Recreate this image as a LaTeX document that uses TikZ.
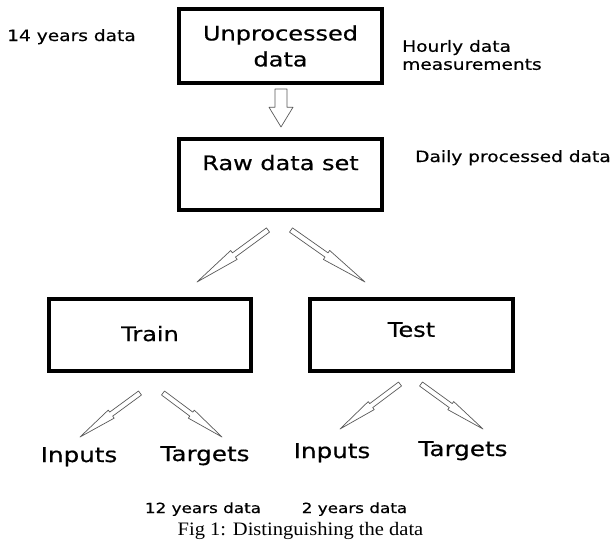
\documentclass[tikz,border=0pt]{standalone}
\usepackage{fontspec}
\setmainfont[FakeStretch=1.2, FakeBold=0.5]{DejaVu Sans}
\newfontfamily\captionfont[FakeStretch=1.08]{Liberation Serif}
\usetikzlibrary{positioning,calc}

% hollow arrow with a notch half way: {shaft half width}{head half width}{from}{to}
\newcommand{\splitarrow}[4]{%
  \coordinate (notch) at ($(#3)!.48!(#4)$);
  \draw[hollow] ($(#3)!#1!90:(#4)$) -- ($(notch)!#1!-90:(#3)$)
    -- ($(notch)!#2!-90:(#3)$) -- (#4)
    -- ($(notch)!#2!90:(#3)$) -- ($(notch)!#1!90:(#3)$)
    -- ($(#3)!#1!-90:(#4)$) -- cycle;}

\begin{document}
\begin{tikzpicture}[x=1pt, y=-1pt,
    stage/.style={rectangle, draw=black, line width=4pt, fill=white, inner sep=0pt,
                  minimum width=203pt, minimum height=72pt, align=center,
                  font=\fontsize{20}{26}\selectfont},
    note/.style={inner sep=0pt, align=left, font=\fontsize{15.5}{18}\selectfont},
    leaf/.style={inner sep=0pt, anchor=base, font=\fontsize{20.5}{24}\selectfont},
    share/.style={inner sep=0pt, anchor=base, font=\fontsize{14}{16}\selectfont},
    hollow/.style={draw=gray!70!black, line width=0.7pt, fill=white, line join=round}]
    \useasboundingbox (0,0) rectangle (615,541);

    % the four boxes
    \node[stage, minimum height=74pt] (unproc) at (280.5,46) {Unprocessed\\data};
    \node[stage, minimum height=71pt, text depth=24pt] (raw) at (280.5,174.5) {Raw data set};
    \node[stage, minimum width=202pt, text depth=3pt] (train) at (150,335) {Train};
    \node[stage, text depth=11pt] (test) at (411.5,335) {Test};

    % side notes
    \node[note, anchor=base west] (years14) at (7,41) {14 years data};
    \node[note, anchor=west] (hourly) at (402,55) {Hourly data\\measurements};
    \node[note, anchor=base west] (daily) at (415,162) {Daily processed data};

    % inputs and targets
    \node[leaf] (inL) at (79,462) {Inputs};
    \node[leaf] (tgL) at (205,461) {Targets};
    \node[leaf] (inR) at (332,458) {Inputs};
    \node[leaf] (tgR) at (463,456) {Targets};

    \node[share] (years12) at (203,513) {12 years data};
    \node[share] (years2) at (354.5,513) {2 years data};
    \node[inner sep=0pt, anchor=base, font=\captionfont\fontsize{19}{22}\selectfont]
        (caption) at (300.5,535) {Fig 1: Distinguishing the data};

    % arrow ends
    \coordinate (down-a) at (281,89);
    \coordinate (down-b) at (281,127);
    \coordinate (raw-l) at (268,230);
    \coordinate (train-top) at (197,282);
    \coordinate (raw-r) at (291,230);
    \coordinate (test-top) at (365,282);
    \coordinate (train-l) at (140,393);
    \coordinate (inL-top) at (80,437);
    \coordinate (train-r) at (163,393);
    \coordinate (tgL-top) at (222,437);
    \coordinate (test-l) at (400,384);
    \coordinate (inR-top) at (340,429);
    \coordinate (test-r) at (421,384);
    \coordinate (tgR-top) at (483,429);

    \splitarrow{6pt}{12pt}{down-a}{down-b}
    \splitarrow{2.6pt}{5.5pt}{raw-l}{train-top}
    \splitarrow{2.6pt}{5.5pt}{raw-r}{test-top}
    \splitarrow{2.5pt}{5pt}{train-l}{inL-top}
    \splitarrow{2.5pt}{5pt}{train-r}{tgL-top}
    \splitarrow{2.5pt}{5pt}{test-l}{inR-top}
    \splitarrow{2.5pt}{5pt}{test-r}{tgR-top}
\end{tikzpicture}
\end{document}
